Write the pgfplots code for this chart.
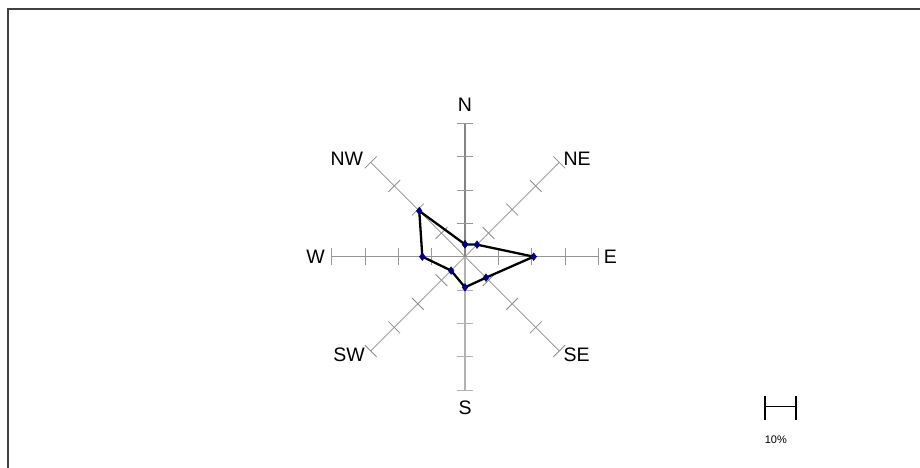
\documentclass[border=0pt]{standalone}
\usepackage{pgfplots}
\pgfplotsset{compat=1.18}
\usepackage{fontspec}
\setmainfont{Liberation Sans}
\definecolor{navy}{HTML}{000080}
\begin{document}
\begin{tikzpicture}
\useasboundingbox (0,0) rectangle (920pt,468pt);
% spokes (centre at axis cs 0,0 = 465pt, 211.33pt)
\begin{scope}[shift={(465pt,211.33pt)}]
  \foreach \ang in {45,135,225,315}{
    \draw[color=black!45, line width=0.8pt, rotate=\ang] (0,0) -- (133.33pt,0);
    \foreach \rr in {33.33,66.67,100,133.33}
      \draw[color=black!45, line width=0.8pt, rotate=\ang] (\rr pt,-8.3pt) -- (\rr pt,8.3pt);
  }
  \foreach \ang in {0,180}{
    \draw[color=black!42, line width=1.2pt, rotate=\ang] (0,0) -- (133.33pt,0);
    \foreach \rr in {33.33,66.67,100,133.33}
      \draw[color=black!40, line width=0.9pt, rotate=\ang] (\rr pt,-8.3pt) -- (\rr pt,8.3pt);
  }
  \draw[color=black!48, line width=1.6pt] (0,0) -- (0,133.33pt);
  \foreach \rr in {33.33,66.67,100,133.33}
    \draw[color=black!40, line width=0.9pt] (-8.3pt,\rr pt) -- (8.3pt,\rr pt);
  \draw[color=black!30, line width=1.6pt] (0,0) -- (0,-133.33pt);
  \foreach \rr in {33.33,66.67,100,133.33}
    \draw[color=black!30, line width=0.9pt] (-8.3pt,-\rr pt) -- (8.3pt,-\rr pt);
\end{scope}
\begin{axis}[
  at={(0,0)}, anchor=south west,
  scale only axis, width=920pt, height=468pt,
  xmin=-139.5, xmax=136.5, ymin=-63.4, ymax=77,
  hide axis, clip=false,
]
% frame (top and left edges visible)
\draw[color=black!75, line width=1.2pt] (axis cs:-137.1,-70) -- (axis cs:-137.1,74.3) -- (axis cs:140,74.3);
% data (direction angle in degrees, percent)
\addplot[data cs=polar, black, line width=2.3pt, mark=diamond*,
  mark options={fill=navy, draw=navy, line width=0.5pt}, mark size=3.8pt]
  coordinates {(90,3.7) (45,5.1) (0,20.6) (-45,8.9) (-90,9.2) (-135,5.9) (180,12.8) (135,19.4) (90,3.7)};
% direction labels
\node[anchor=base, inner sep=0pt, font=\fontsize{19.5}{22}\selectfont] at (axis cs:0,43.5) {N};
\node[anchor=base, inner sep=0pt, font=\fontsize{19.5}{22}\selectfont] at (axis cs:0,-47.5) {S};
\node[anchor=base west, inner sep=0pt, font=\fontsize{19.5}{22}\selectfont] at (axis cs:41.6,-2.2) {E};
\node[anchor=base east, inner sep=0pt, font=\fontsize{19.5}{22}\selectfont] at (axis cs:-42,-2.2) {W};
\node[anchor=base west, inner sep=0pt, font=\fontsize{19.5}{22}\selectfont] at (axis cs:29.5,27.3) {NE};
\node[anchor=base east, inner sep=0pt, font=\fontsize{19.5}{22}\selectfont] at (axis cs:-30.5,27.3) {NW};
\node[anchor=base west, inner sep=0pt, font=\fontsize{19.5}{22}\selectfont] at (axis cs:29.5,-31.5) {SE};
\node[anchor=base east, inner sep=0pt, font=\fontsize{19.5}{22}\selectfont] at (axis cs:-30,-31.5) {SW};
% scale bar
\draw[black, line width=1.4pt] (axis cs:90.1,-45) -- (axis cs:99.3,-45);
\draw[black, line width=1.7pt] (axis cs:90.1,-41.8) -- (axis cs:90.1,-49);
\draw[black, line width=1.7pt] (axis cs:99.3,-41.8) -- (axis cs:99.3,-49);
\node[anchor=base west, inner sep=0pt, font=\fontsize{11}{13}\selectfont] at (axis cs:89.9,-56) {10\%};
\end{axis}
\end{tikzpicture}
\end{document}
